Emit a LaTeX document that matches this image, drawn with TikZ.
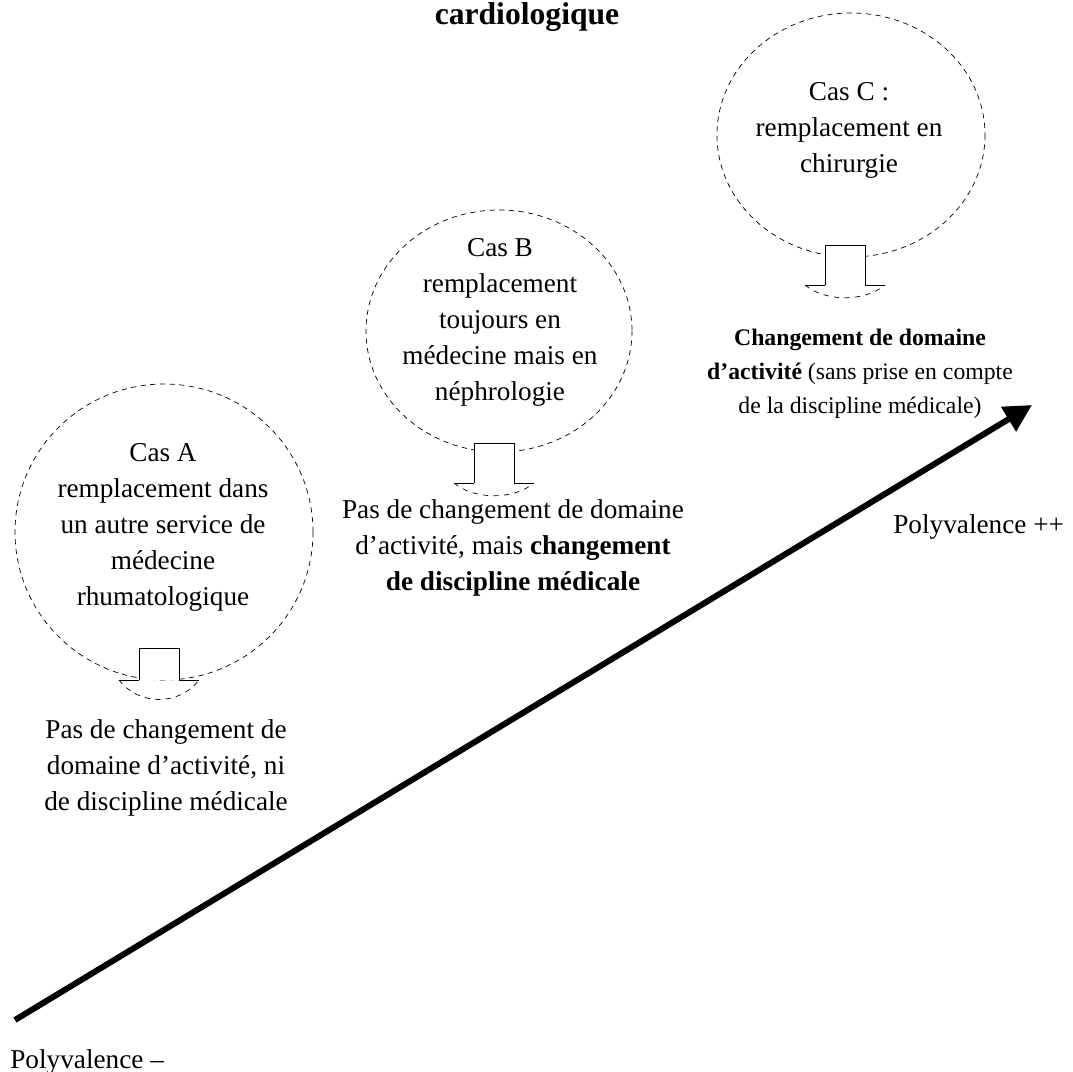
\documentclass[tikz,border=0pt]{standalone}
\usepackage{fontspec}
\setmainfont{Liberation Serif}
\usetikzlibrary{arrows.meta}
% open block arrow under each bubble: centre x, top, wing line, tip
\newcommand{\openarrow}[4]{%
  \draw[fill=white] (#1-20,#3) -- (#1-20,#2) -- (#1+20,#2) -- (#1+20,#3);
  \draw (#1-40,#3) -- (#1-20,#3) (#1+20,#3) -- (#1+40,#3);
  \draw[dashed] (#1-40,#3) .. controls (#1-20,#4) and (#1+20,#4) .. (#1+40,#3);}

\begin{document}
\begin{tikzpicture}[x=0.02cm,y=-0.02cm,
  txt/.style={align=center,font=\fontsize{15.5}{20.5}\selectfont,inner sep=0pt},
  bulle/.style={dashed,dash pattern=on 3pt off 2.5pt}]
  \useasboundingbox (0,0) rectangle (1073,1072);

  \node[anchor=base,font=\fontsize{18}{22}\selectfont\bfseries] (titre) at (527,24) {cardiologique};

  % bubbles
  \draw[bulle] (851,135) ellipse [x radius=134, y radius=122];
  \draw[bulle] (499,331) ellipse [x radius=133, y radius=121];
  \draw[bulle] (164,532) ellipse [x radius=149, y radius=148];

  \node[txt] (casC) at (849,130) {Cas C :\\remplacement en\\chirurgie};
  \node[txt] (casB) at (500,322) {Cas B\\remplacement\\toujours en\\médecine mais en\\néphrologie};
  \node[txt] (casA) at (163,527) {Cas A\\remplacement dans\\un autre service de\\médecine\\rhumatologique};

  \openarrow{845}{245}{285}{302}
  \openarrow{494}{443}{483}{500}
  \openarrow{159}{648}{680}{706}

  % consequences
  \node[txt,font=\fontsize{13.5}{19.5}\selectfont] (effetC) at (860,374) {\textbf{Changement de domaine}\\\textbf{d'activité} (sans prise en compte\\de la discipline médicale)};
  \node[txt] (effetB) at (513,548) {Pas de changement de domaine\\d'activité, mais \textbf{changement}\\\textbf{de discipline médicale}};
  \node[txt] (effetA) at (166,768) {Pas de changement de\\domaine d'activité, ni\\de discipline médicale};

  % polyvalence axis
  \coordinate (bas) at (15,1020);
  \coordinate (haut) at (1032,405);
  \draw[line width=3.4pt,-{Triangle[length=0.55cm,width=0.55cm]}] (bas) -- (haut);
  \node[txt,anchor=base west] (polymoins) at (10,1068) {Polyvalence --};
  \node[txt,anchor=base west] (polyplus) at (893,533) {Polyvalence ++};
\end{tikzpicture}
\end{document}
